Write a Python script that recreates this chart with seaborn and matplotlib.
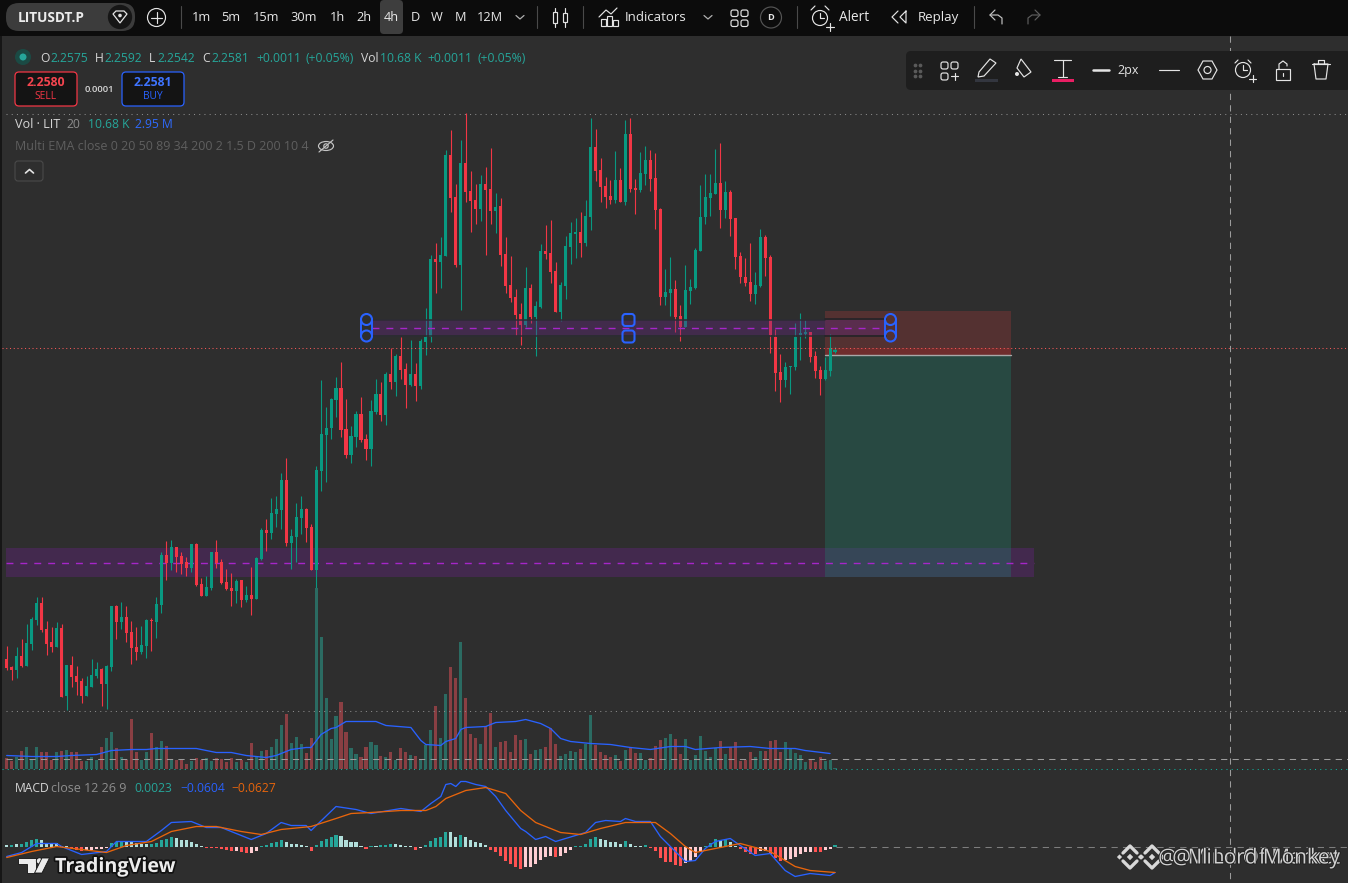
import matplotlib
matplotlib.use("Agg")
import matplotlib.pyplot as plt
import matplotlib.patheffects as pe
from matplotlib.patches import Rectangle, FancyBboxPatch, Circle, Polygon, Ellipse
import seaborn as sns

# candle values in chart points, one per 4h bar
opens = [224,216,213,227,217,239,263,280,254,241,
         236,255,187,218,207,202,187,196,207,214,
         199,216,277,261,266,251,236,231,237,263,
         261,278,328,320,336,327,321,315,339,299,
         287,295,331,321,301,295,292,303,283,288,
         284,324,353,350,369,373,403,340,346,365,
         374,356,313,412,448,455,483,495,454,428,
         446,469,444,434,471,489,468,509,501,527,
         514,498,509,497,541,546,624,621,627,728,
         686,618,720,692,683,674,699,694,672,677,
         629,598,586,569,558,595,566,576,632,630,
         612,571,597,636,649,651,640,666,736,713,
         697,687,683,703,681,749,695,693,709,723,
         705,674,586,590,594,567,556,592,595,632,
         666,685,689,700,673,691,665,627,606,601,
         589,597,646,626,546,511,503,516,516,548,
         549,551,527,513,504,512,531]
closes = [215,213,227,217,240,264,280,253,239,236,
          255,186,218,206,201,187,197,208,214,199,
          217,277,261,266,250,235,231,238,263,262,
          279,328,320,336,326,319,315,339,298,287,
          296,331,320,300,294,292,302,283,288,284,
          325,353,350,370,374,403,340,347,366,374,
          355,313,413,449,455,484,495,453,428,447,
          469,443,434,472,489,468,509,501,527,513,
          498,509,497,542,546,624,621,628,728,685,
          618,720,691,682,674,699,693,672,676,628,
          597,585,568,558,595,566,577,632,629,611,
          571,598,637,650,651,640,667,736,712,696,
          686,683,703,681,749,694,693,710,723,704,
          673,586,591,594,566,556,593,596,633,666,
          686,690,700,673,691,664,626,606,600,589,
          598,646,625,548,510,503,516,517,546,550,
          551,526,512,504,513,535,533]
highs = [237,217,236,244,259,266,286,286,262,256,
         261,259,218,227,217,205,207,224,221,215,
         218,277,278,281,277,262,256,257,264,265,
         286,331,342,343,336,331,326,339,340,305,
         307,331,343,324,314,310,304,303,297,316,
         326,355,364,385,387,410,425,354,380,387,
         375,359,417,503,476,485,506,521,484,457,
         472,486,449,483,504,501,511,535,529,546,
         520,543,520,544,575,628,640,646,733,753,
         699,743,770,712,699,708,716,735,690,685,
         646,627,594,580,616,599,582,639,658,663,
         621,601,647,661,665,671,683,765,754,725,
         706,703,732,715,763,765,704,731,737,733,
         730,675,614,626,603,578,618,604,635,698,
         709,709,734,740,702,693,665,631,625,640,
         611,654,648,628,554,529,521,517,560,570,
         563,551,532,517,526,549,536]
lows = [213,203,205,216,217,233,258,251,228,231,
        236,186,173,196,188,180,187,196,205,177,
        174,212,244,254,241,219,223,229,225,232,
        245,270,303,313,311,309,307,311,297,287,
        287,293,315,299,293,277,280,276,281,268,
        284,323,332,344,356,354,337,314,321,349,
        341,313,292,392,401,444,466,446,425,420,
        436,441,423,417,469,462,458,494,487,504,
        475,497,482,494,528,541,590,595,627,671,
        616,573,681,651,659,662,628,659,650,617,
        590,581,548,538,556,560,527,575,624,600,
        571,562,584,619,625,626,637,653,702,681,
        675,679,680,681,678,691,669,691,698,692,
        654,578,578,567,551,542,556,579,594,632,
        659,667,689,655,665,647,614,600,597,582,
        579,596,607,530,492,481,496,489,513,523,
        545,521,505,488,503,507,530]

volumes = [11,8,12,18,22,10,22,17,17,9,
           17,18,19,17,17,8,8,12,9,22,
           31,37,21,12,9,50,17,9,17,36,
           22,28,23,10,9,10,5,8,11,9,
           11,8,11,10,7,11,7,9,7,26,
           12,18,19,22,30,44,55,26,32,25,
           16,31,181,132,71,30,53,67,37,21,
           15,12,22,27,24,13,12,17,9,21,
           17,14,13,9,24,39,63,31,75,102,
           91,127,71,35,31,25,43,56,22,27,
           28,17,34,29,30,15,19,20,22,41,
           25,13,15,18,17,20,25,54,24,17,
           14,12,14,8,19,21,16,16,9,11,
           23,29,31,35,30,15,30,9,14,33,
           18,12,21,28,15,22,27,8,9,17,
           12,18,18,28,29,17,27,21,16,14,
           7,9,7,12,8,9,1]

# moving average of volume, read at the bends
vol_ma_bar = [0,5,10,13,18,21,25,28,30,36,38,42,45,48,52,54,57,60,61,63,65,66,68,74,76,81,83,84,87,88,
              90,91,92,96,98,102,104,107,109,111,113,117,121,125,129,133,136,138,143,149,153,158,160,165]
vol_ma = [13,12,12,13,14,18,19,19,20,20,20,16,16,13,11,13,19,21,21,34,40,41,47,47,43,41,28,24,23,27,
          30,39,41,42,46,47,49,45,40,30,27,25,24,21,19,22,22,19,21,22,20,20,18,15]

macd_hist = [2,2,3,3,5,7,8,7,4,4,
             4,1,0.5,-1,-3,-4,-3,-3,-2,-2,
             -1,4,5,6,6,5,4,3,3,3,
             4,7,8,10,9,7,7,5,3,1,
             -1,-1,-1,-2,-3,-4,-4,-5,-6,-6,
             -4,1,2,4,5,7,5,3,3,2,
             1,-4,2,6,8,10,12,11,7,5,
             5,1,-2,1,1,2,2,3,3,2,
             1,0.5,-3,-1,2,6,9,10,15,15,
             10,12,10,7,5,4,2,-3,-5,-9,
             -14,-17,-20,-22,-20,-20,-17,-13,-10,-9,
             -10,-9,-6,-3,0.5,1,3,8,10,8,
             7,5,5,3,6,3,1,1,2,-1,
             -4,-11,-15,-15,-18,-19,-16,-14,-10,-5,
             1,4,8,7,8,5,1,-2,-5,-7,
             -7,-4,-4,-7,-11,-14,-13,-12,-10,-7,
             -5,-5,-5,-5,-3,-2,2]
hist_kind = list("LTLTTTTLLL" "LLLRRRPPPP" "PTTTLLLLLT" "TTTTLLLLLL"
                 "RRRRRRPRRP" "PTTTTTLLLL" "LRTTTTTLLL" "LLRTLTTTLL"
                 "LLRPTTTTTL" "LTLLLLLRRR" "RRRRPPPPPP" "RPPPTTTTTL"
                 "LLLLTLLLTR" "RRRRRRPPPP" "TTTLTLLRRR" "RPPRRRPPPP" "PPRRPPT")

macd_bar = [0,3,6,10,11,15,20,22,25,28,31,33,37,40,43,49,52,55,57,60,61,66,70,73,79,83,85,87,88,89,
            90,91,92,94,96,98,100,103,104,106,108,110,112,116,118,120,123,124,126,129,131,133,136,138,
            140,142,145,147,150,153,156,158,161,165,166]
macd_line = [-10,-6,3,3,0,-8,-5,5,5,5,16,24,25,19,19,7,13,24,21,21,16,40,37,33,38,35,43,50,62,63,
             60,65,65,62,60,50,36,18,15,7,10,5,8,14,24,26,25,28,25,25,10,0,-15,-14,
             -2,5,8,1,-9,-7,-24,-30,-27,-29,-26]
signal_bar = [0,5,10,15,20,24,29,33,38,42,47,51,55,61,66,69,73,79,84,86,88,92,96,100,103,106,111,115,
              119,124,130,133,136,138,142,147,150,153,158,161,166]
signal_line = [-11,-5,0,-3,-6,1,5,15,20,20,15,12,17,20,28,33,34,36,36,40,48,56,59,53,36,24,14,12,
               18,24,24,13,0,-6,-2,3,-1,-5,-20,-24,-26]

# drawings on the chart, same points as the candles
lower_zone = (306, 335, 320.5)
upper_zone = (548, 563, 555.5)
stop_box = (528, 572)
stop_near = (528, 535.5)
target_box = (306, 528)

BG = "#2e2e2e"
HEADER = "#0c0c0c"
UP = "#089981"
DOWN = "#f23645"
BLUE = "#2962ff"
ORANGE = "#e8650c"
hist_colors = {"T": "#26a69a", "L": "#b2dfdb", "R": "#ff5252", "P": "#ffcdd2"}

sns.set_theme(style="dark", rc={"figure.facecolor": BG, "axes.facecolor": BG})
plt.rcParams["font.family"] = ["Open Sans", "DejaVu Sans"]

W, H = 1348, 883
bars = list(range(len(closes)))
is_up = [c >= o for o, c in zip(opens, closes)]
x_lim = (-6.7 / 4.99, (W - 6.7) / 4.99)


def bar_x(px):
    return (px - 6.7) / 4.99


fig = plt.figure(figsize=(W / 100, H / 100), dpi=100)
ax = fig.add_axes([0, 0, 1, 1], zorder=1)
ax_vol = fig.add_axes([0, 0, 1, 1], zorder=2)
ax_macd = fig.add_axes([0, 0, 1, 1], zorder=3)
ui = fig.add_axes([0, 0, 1, 1], zorder=4)

# position drawings under the candles
x0, x1 = bar_x(825), bar_x(1011)
ax.add_patch(Rectangle((bar_x(6), lower_zone[0]), bar_x(1034) - bar_x(6), lower_zone[1] - lower_zone[0],
                       color="#7b1fa2", alpha=0.28, lw=0, zorder=1))
ax.add_patch(Rectangle((x0, target_box[0]), x1 - x0, target_box[1] - target_box[0],
                       color="#1f7a68", alpha=0.36, lw=0, zorder=1))
ax.add_patch(Rectangle((x0, stop_box[0]), x1 - x0, stop_box[1] - stop_box[0],
                       color="#c83c3c", alpha=0.25, lw=0, zorder=1))
ax.add_patch(Rectangle((x0, stop_near[0]), x1 - x0, stop_near[1] - stop_near[0],
                       color="#d02020", alpha=0.22, lw=0, zorder=1))
ax.plot([bar_x(6), bar_x(1034)], [lower_zone[2]] * 2, color="#a626c9", lw=1, ls=(0, (5, 5)), zorder=2)
ax.plot([x0, x1], [stop_box[0]] * 2, color="#a8a8a8", lw=1, zorder=2)

# candles
candle_colors = [UP if u else DOWN for u in is_up]
ax.vlines(bars, lows, highs, colors=candle_colors, linewidth=0.8, zorder=3)
ax.bar(bars, [max(abs(c - o), 1) for o, c in zip(opens, closes)], bottom=[min(o, c) for o, c in zip(opens, closes)],
       width=0.62, color=candle_colors, linewidth=0, zorder=3)

# upper zone sits over the candles
zx0, zx1 = bar_x(372), bar_x(886)
ax.add_patch(Rectangle((zx0, upper_zone[0]), zx1 - zx0, upper_zone[1] - upper_zone[0],
                       facecolor="#672883", alpha=0.36, lw=0, zorder=4))
ax.plot([zx0, bar_x(825)], [upper_zone[1] + 0.5] * 2, color="#2c2c34", lw=1.1, zorder=4)
ax.plot([zx0, bar_x(825)], [upper_zone[0] - 0.5] * 2, color="#2c2c34", lw=1.1, zorder=4)
ax.plot([bar_x(825), zx1], [upper_zone[1] + 1] * 2, color="#232328", lw=1.2, zorder=4)
ax.plot([bar_x(825), zx1], [upper_zone[0] - 1] * 2, color="#232328", lw=1.2, zorder=4)
ax.plot([zx0, zx1], [upper_zone[2]] * 2, color="#a626c9", lw=1, ls=(0, (5, 5)), zorder=5)
ax.set_xlim(x_lim)
ax.set_ylim(0, H)
ax.set_axis_off()

# volume pane
vol_key = ["up" if u else "down" for u in is_up]
sns.barplot(x=bars, y=volumes, hue=vol_key, palette={"up": "#2b6b62", "down": "#8a3f43"}, native_scale=True,
            width=0.62, dodge=False, saturation=1, errorbar=None, linewidth=0, legend=False, ax=ax_vol)
sns.lineplot(x=vol_ma_bar, y=vol_ma, color=BLUE, linewidth=0.95, estimator=None, sort=False, ax=ax_vol)
ax_vol.set_xlim(x_lim)
ax_vol.set_ylim(-(H - 768.5), 768.5)
ax_vol.set_axis_off()

# macd pane
sns.barplot(x=bars, y=macd_hist, hue=hist_kind, palette=hist_colors, native_scale=True, width=0.62, dodge=False,
            saturation=1, errorbar=None, linewidth=0, legend=False, ax=ax_macd)
sns.lineplot(x=macd_bar, y=macd_line, color=BLUE, linewidth=0.95, estimator=None, sort=False, ax=ax_macd)
sns.lineplot(x=signal_bar, y=signal_line, color=ORANGE, linewidth=0.95, estimator=None, sort=False, ax=ax_macd)
ax_macd.set_xlim(x_lim)
ax_macd.set_ylim(-(H - 846.5), 846.5)
ax_macd.set_axis_off()

# screen furniture, in pixels
ui.set_xlim(0, W)
ui.set_ylim(H, 0)
ui.set_axis_off()


def hline(y, x_a, x_b, color, ls):
    ui.plot([x_a, x_b], [y, y], color=color, lw=0.75, ls=ls, zorder=1)


def seg(xs, ys, color="#e4e4e4", lw=0.85):
    ui.plot(xs, ys, color=color, lw=lw, solid_capstyle="round", zorder=6)


def label(x, y, s, color="#d6d6d6", size=8.7, weight="normal", ha="left", **kw):
    # va center sits a touch high with this font
    return ui.text(x, y + 1, s, color=color, fontsize=size, fontweight=weight, ha=ha, va="center", zorder=7, **kw)


def ring(x, y, r, ec="#e4e4e4", fc="none", lw=0.85, z=6):
    ui.add_patch(Circle((x, y), r, ec=ec, fc=fc, lw=lw, zorder=z))


def box(x, y, w, h, fc, ec="none", lw=0.0, pad=3, z=5):
    ui.add_patch(FancyBboxPatch((x + pad, y + pad), w - 2 * pad, h - 2 * pad, boxstyle=f"round,pad={pad}",
                                fc=fc, ec=ec, lw=lw, zorder=z))


dots = (0, (1, 4))
red_dots = (0, (1, 2.6))
dashes = (0, (6, 5))
hline(114, 6, W, "#8c8c8c", dots)
hline(347.5, 2, W, "#f25a5a", red_dots)
hline(711, 6, W, "#8c8c8c", dots)
hline(758.5, 6, W, "#9c9c9c", dashes)
hline(768.5, 2, W, "#10b5a0", dots)
hline(846.5, 836, W, "#7d7d7d", dashes)
ui.plot([1229.5, 1229.5], [36, H], color="#9c9c9c", lw=0.75, ls=dashes, zorder=1)

# left edge and top bar
ui.add_patch(Rectangle((0, 36), 2, H - 36, fc="#161616", lw=0, zorder=2))
ui.add_patch(Rectangle((0, 0), W, 36, fc=HEADER, lw=0, zorder=3))

box(6, 3, 129, 28, "#3c3c3c", pad=13)
ring(120, 17, 13, ec="#3c3c3c", fc="#161616", lw=1.2)
ui.add_patch(Polygon([(113, 14), (116, 11), (124, 11), (127, 14), (120, 23)], closed=True, ec="#e4e4e4", fc="none",
                     lw=0.9, zorder=7))
ui.add_patch(Circle((120, 15.5), 1.8, fc="#e4e4e4", lw=0, zorder=7))
label(18, 16.5, "LITUSDT.P", color="#ececec", size=9.8, weight="bold")
ring(156.5, 17.5, 9)
seg([151, 162], [17.5, 17.5])
seg([156.5, 156.5], [12, 23])
for sx in [181, 537, 583, 797, 974]:
    seg([sx, sx], [6, 28], color="#4a4a4a", lw=0.8)
box(380, 0, 23, 34, "#3e3e3e", pad=4)
intervals = ["1m", "5m", "15m", "30m", "1h", "2h", "4h", "D", "W", "M", "12M"]
interval_x = [201, 231, 266, 304, 337, 364, 391, 415, 437, 460, 490]
for s, ix in zip(intervals, interval_x):
    label(ix, 16.5, s, color="#e8e8e8", size=9.2, ha="center", weight="medium")
seg([516, 520, 524], [15.5, 19, 15.5], color="#b0b0b0", lw=0.9)
seg([555, 555], [8, 27])
seg([565, 565], [8, 27])
ui.add_patch(Rectangle((553, 12), 4, 11, ec="#e4e4e4", fc=HEADER, lw=0.85, zorder=6.5))
ui.add_patch(Rectangle((563, 13), 4, 9, ec="#e4e4e4", fc=HEADER, lw=0.85, zorder=6.5))
seg([599, 606, 611, 617], [17, 10, 14, 8])
for ox, oh in [(601, 7), (607, 10), (613, 6)]:
    ui.add_patch(Rectangle((ox, 26 - oh), 4.5, oh, ec="#e4e4e4", fc="none", lw=0.85, zorder=6))
label(625, 16.5, "Indicators", color="#e8e8e8", size=9.5, weight="medium")
seg([704, 708, 712], [15.5, 19, 15.5], color="#b0b0b0", lw=0.9)
for gx in [731, 741]:
    for gy in [10, 20]:
        box(gx, gy, 7, 6.5, "none", ec="#e4e4e4", lw=0.85, pad=2)
ring(771, 17.5, 10.5, ec="#555555")
label(771, 16.5, "D", color="#e8e8e8", size=6.6, weight="bold", ha="center")
ring(820, 18, 7.5)
seg([820, 820, 824], [13, 18, 18])
seg([826, 834], [27, 27])
seg([830, 830], [23, 31])
seg([811, 815], [10, 6])
seg([825, 829], [6, 10])
label(839, 16.5, "Alert", color="#e8e8e8", size=9.8, weight="medium")
seg([898, 892, 898], [11, 17, 23])
seg([906, 900, 906, 906], [11, 17, 23, 11])
label(918, 16.5, "Replay", color="#e8e8e8", size=9.6, weight="medium")
seg([995, 990, 995], [10, 15, 20], color="#c4c4c4")
seg([990, 998, 1002, 1002], [15, 15, 18, 24], color="#c4c4c4")
seg([1035, 1040, 1035], [10, 15, 20], color="#5e5e5e")
seg([1040, 1032, 1028, 1028], [15, 15, 18, 24], color="#5e5e5e")

# drawing toolbar
box(906, 51, 445, 39, "#1e1e1e", pad=5)
for dx in [914.5, 919.5]:
    for dy in [65, 70.5, 76]:
        ui.plot(dx, dy, "o", ms=1.7, color="#5a5a5a", zorder=6)
for gx, gy in [(941, 62), (951, 62), (941, 73)]:
    box(gx, gy, 7, 7, "none", ec="#e4e4e4", lw=0.85, pad=2)
seg([951, 958], [76, 76])
seg([954.5, 954.5], [73, 80])
ui.add_patch(Polygon([(979, 72), (990, 59), (996, 63), (984, 76), (978, 77)], closed=True, ec="#e4e4e4", fc="none",
                     lw=0.85, zorder=6))
ui.add_patch(Rectangle((975, 79), 23, 3, fc="#33363f", lw=0, zorder=6))
ui.add_patch(Polygon([(1021, 59), (1031, 72), (1024, 77), (1017, 68)], closed=True, ec="#e4e4e4", fc="none", lw=0.85,
                     zorder=6))
ui.add_patch(Circle((1017, 74), 2, fc="#e4e4e4", lw=0, zorder=6))
seg([1054, 1071], [60, 60])
seg([1062.5, 1062.5], [60, 77])
seg([1058, 1067], [77, 77])
ui.add_patch(Rectangle((1052, 79), 22, 3, fc="#e91e63", lw=0, zorder=6))
seg([1093, 1109], [70, 70], lw=1.8)
label(1117, 69.5, "2px", color="#e4e4e4", size=9)
seg([1159, 1179], [70, 70])
ui.add_patch(Polygon([(1198, 70), (1203, 61), (1212, 61), (1217, 70), (1212, 79), (1203, 79)], closed=True,
                     ec="#e4e4e4", fc="none", lw=0.85, zorder=6))
ring(1207.5, 70, 3.5)
ring(1243, 70, 7.5)
seg([1243, 1243, 1247], [65, 70, 70])
seg([1235, 1238], [63, 60])
seg([1248, 1251], [60, 63])
seg([1249, 1256], [79, 79])
seg([1252.5, 1252.5], [75, 82])
ui.add_patch(Rectangle((1276, 69), 14, 11, ec="#e4e4e4", fc="none", lw=0.85, zorder=6))
seg([1279, 1279, 1283, 1287, 1287], [69, 64, 61, 64, 66])
seg([1283, 1283], [73, 76])
seg([1312, 1330], [64, 64])
seg([1314, 1316, 1326, 1328, 1314], [64, 79, 79, 64, 64])
seg([1318, 1318, 1324, 1324], [64, 60, 60, 64])

# legend rows
ui.add_patch(Circle((23, 57), 8, fc="#1b4a44", lw=0, zorder=6))
ui.add_patch(Circle((23, 57), 3.5, fc="#26a69a", lw=0, zorder=7))
TEAL = "#26a69a"
for lx, s, col in [(40, "O", "#d6d6d6"), (50, "2.2575", TEAL), (95, "H", "#d6d6d6"), (104, "2.2592", TEAL),
                   (149, "L", "#d6d6d6"), (157, "2.2542", TEAL), (202, "C", "#d6d6d6"), (211, "2.2581", TEAL),
                   (256, "+0.0011", TEAL), (306, "(+0.05%)", TEAL), (361, "Vol", "#d6d6d6"), (380, "10.68 K", TEAL),
                   (427, "+0.0011", TEAL), (477, "(+0.05%)", TEAL)]:
    label(lx, 57, s, color=col)
box(15, 72, 62, 34, "#141414", ec=DOWN, lw=0.9, pad=4)
label(46, 81.5, "2.2580", color="#f5454f", size=8.8, weight="bold", ha="center")
label(46, 95.5, "SELL", color=DOWN, size=7.4, ha="center")
label(99, 88, "0.0001", color="#d6d6d6", size=6.8, weight="semibold", ha="center")
box(122, 72, 62, 34, "#141414", ec=BLUE, lw=0.9, pad=4)
label(153, 81.5, "2.2581", color="#3f74ff", size=8.8, weight="bold", ha="center")
label(153, 95.5, "BUY", color=BLUE, size=7.4, ha="center")

label(15, 123, "Vol · LIT", color="#d6d6d6", size=9.1, weight="medium")
label(66, 123, "20", color="#8e8e8e")
label(88, 123, "10.68 K", color=TEAL)
label(135, 123, "2.95 M", color="#2f6bff")
label(15, 146, "Multi EMA close 0 20 50 89 34 200 2 1.5 D 200 10 4", color="#5f5f5f", size=9)
ui.add_patch(Ellipse((326, 146), 15, 9, ec="#c4c4c4", fc="none", lw=0.85, zorder=6))
ring(326, 146, 2.2, ec="#c4c4c4")
seg([319, 333], [152, 140], color="#c4c4c4")
box(15, 161, 28, 20, "none", ec="#4a4a4a", lw=0.8, pad=3)
seg([25.5, 29.5, 33.5], [173, 169.5, 173], lw=1.2)

label(15, 787, "MACD", color="#d6d6d6", weight="medium")
label(51, 787, "close 12 26 9", color="#8e8e8e", size=9)
label(134, 787, "0.0023", color=TEAL)
label(180, 787, "\u22120.0604", color=BLUE)
label(231, 787, "\u22120.0627", color=ORANGE)

# position tool handles
for hx in [366.5, 890.5]:
    seg([hx - 5.5, hx - 5.5], [319.5, 336], color=BLUE, lw=1.4)
    seg([hx + 5.5, hx + 5.5], [319.5, 336], color=BLUE, lw=1.4)
    ring(hx, 319.5, 5.5, ec=BLUE, lw=1.5, z=8)
    ring(hx, 336, 5.5, ec=BLUE, lw=1.5, z=8)
for hy in [320, 336.5]:
    box(622.5, hy - 6, 12, 12, "none", ec=BLUE, lw=1.5, pad=3, z=8)

# logo and watermark
shadow = [pe.withStroke(linewidth=2.5, foreground="#111111")]
logo_parts = [Polygon([(18, 858), (36, 858), (36, 873), (27, 873), (27, 864), (18, 864)], closed=True),
              Circle((39.5, 861), 3.2),
              Polygon([(42, 858), (49.5, 858), (42, 873), (34.5, 873)], closed=True)]
for part in logo_parts:
    part.set(fc="#ececec", ec="#111111", lw=0.6, zorder=7)
    ui.add_patch(part)
label(55, 866, "TradingView", color="#ececec", size=14.2, weight="bold", path_effects=shadow)
for wx in [1130, 1152]:
    wy = 857
    seg([wx - 7, wx, wx + 7], [wy - 4, wy - 11, wy - 4], color="#d8d8d8", lw=2.4)
    seg([wx - 7, wx, wx + 7], [wy + 4, wy + 11, wy + 4], color="#d8d8d8", lw=2.4)
    for dx, r in [(0, 3.2), (-10.5, 2.6), (10.5, 2.6)]:
        ui.add_patch(Polygon([(wx + dx, wy - r), (wx + dx + r, wy), (wx + dx, wy + r), (wx + dx - r, wy)], closed=True,
                             fc="#d8d8d8", lw=0, zorder=7))
wm = [pe.withStroke(linewidth=1.2, foreground="#222222")]
label(1340, 857, "@  Mind Of Market", color="#d0d0d0", size=15, ha="right", path_effects=wm)
label(1340, 857, "@ Il Lord Monkey", color="#d0d0d0", size=15, ha="right", path_effects=wm)

fig.savefig("out.png", dpi=100, facecolor=BG)
